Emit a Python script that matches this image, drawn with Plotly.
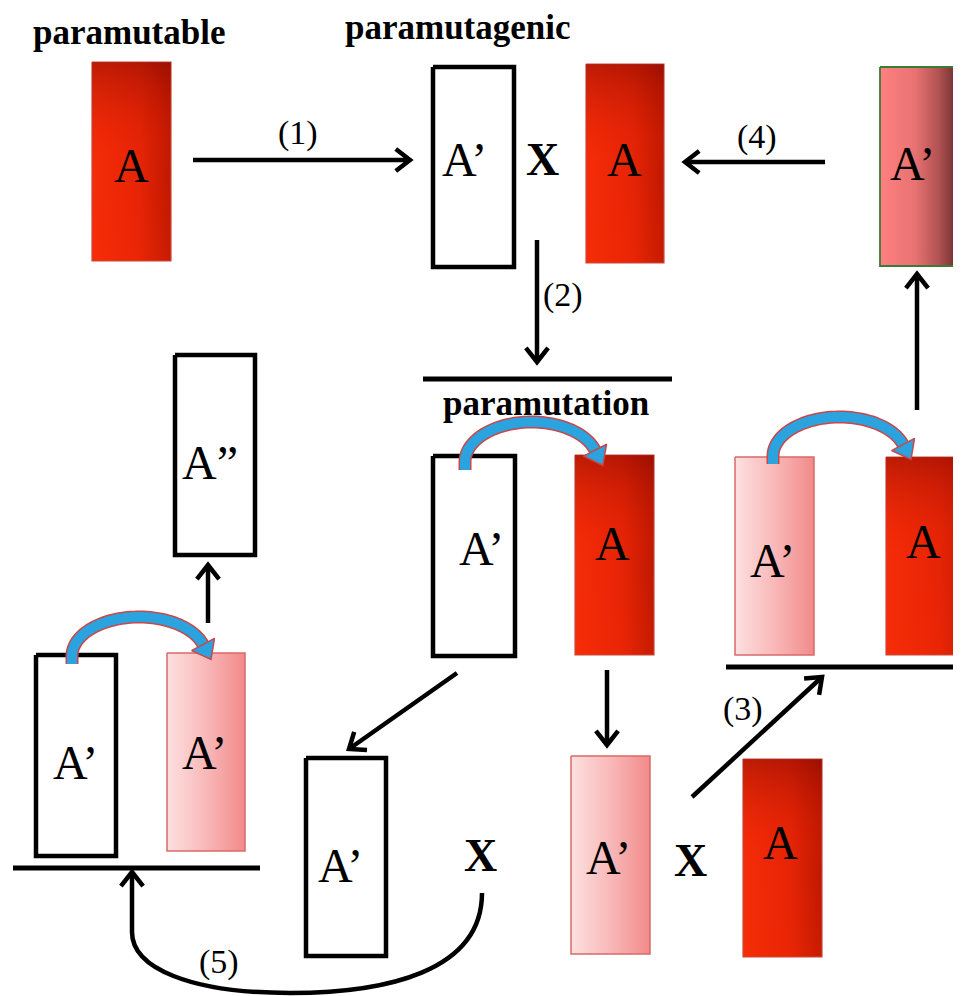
import numpy as np
import plotly.graph_objects as go

W, H = 961, 996
PAGE_MARGIN = 8  # default body margin of the html page

# ---------------- data: boxes ----------------
box_labels = ["A", "A’", "A", "A’", "A’", "A", "A’", "A", "A’", "A’", "A”", "A’", "A’", "A"]
box_styles = ["red", "outline", "red", "dusk", "outline", "red", "pink", "red",
              "outline", "pink", "outline", "outline", "pink", "red"]
box_x0 = [92, 433, 586, 880, 433, 575, 735, 886, 36, 167, 175, 306, 571, 743]
box_x1 = [171, 514, 664, 958, 515, 654, 814, 975, 116, 245, 255, 386, 650, 822]
box_y0 = [62, 67, 64, 67, 456, 455, 457, 457, 655, 653, 355, 758, 756, 759]
box_y1 = [261, 267, 263, 266, 656, 655, 655, 655, 856, 851, 555, 956, 954, 957]
label_x = [131, 464, 624, 912, 481, 612, 772, 923, 75, 204, 210, 340, 608, 780]
label_y = [165, 159, 159, 163, 548, 543, 560, 541, 762, 752, 462, 865, 857, 842]

# ---------------- data: texts ----------------
title_texts = ["paramutable", "paramutagenic", "paramutation"]
title_x = [129, 458, 546]
title_y = [32, 27, 403]

step_texts = ["(1)", "(2)", "(3)", "(4)", "(5)"]
step_x = [298, 563, 743, 757, 219]
step_y = [133, 295, 709, 137, 962]

cross_x = [542, 480, 690]
cross_y = [159, 855, 860]

# ---------------- data: straight arrows (start -> tip) ----------------
arrow_x0 = [193, 537, 825, 917, 457, 607, 692, 208]
arrow_y0 = [160, 240, 162, 410, 673, 670, 797, 623]
arrow_x1 = [410, 537, 685, 917, 349, 607, 822, 208]
arrow_y1 = [160, 362, 162, 274, 749, 745, 677, 565]

# baseline bars
bar_x0 = [423, 726, 13]
bar_x1 = [672, 961, 260]
bar_y = [379, 667, 868]

# curved block arrows: tail x, tail y, tip x, apex y
curl_tail_x = [465, 773, 72]
curl_tail_y = [470, 464, 664]
curl_tip_x = [602, 910, 210]
curl_apex_y = [422, 417, 617]

SERIF = "Liberation Serif, Times New Roman, serif"
BLUE = "#2aa3de"
OUTRED = "#c9474a"

fig = go.Figure()

def rect_xy(x0, x1, y0, y1):
    return [x0, x1, x1, x0, x0], [y0, y0, y1, y1, y0]

for lab, st, x0, x1, y0, y1 in zip(box_labels, box_styles, box_x0, box_x1, box_y0, box_y1):
    xs, ys = rect_xy(x0, x1, y0, y1)
    if st == "outline":
        fig.add_trace(go.Scatter(x=xs, y=ys, mode="lines", fill="toself",
                                 fillcolor="white", line=dict(color="black", width=4.5),
                                 hoverinfo="skip"))
    elif st == "red":
        fig.add_trace(go.Scatter(x=xs, y=ys, mode="lines", fill="toself",
                                 fillgradient=dict(type="horizontal",
                                                   colorscale=[[0, "#f52c08"], [0.6, "#e62406"], [1, "#bf1800"]]),
                                 line=dict(color="#c84a40", width=1.2), hoverinfo="skip"))
        fig.add_trace(go.Scatter(x=xs, y=ys, mode="lines", fill="toself",
                                 fillgradient=dict(type="vertical",
                                                   colorscale=[[0, "rgba(255,50,0,0.12)"], [0.45, "rgba(255,40,0,0.0)"], [1, "rgba(100,0,0,0.38)"]]),
                                 line=dict(color="rgba(0,0,0,0)", width=0), hoverinfo="skip"))
    elif st == "pink":
        fig.add_trace(go.Scatter(x=xs, y=ys, mode="lines", fill="toself",
                                 fillgradient=dict(type="horizontal",
                                                   colorscale=[[0, "#fde0e0"], [0.5, "#f9b8b8"], [1, "#f28a8a"]]),
                                 line=dict(color="#d86a6a", width=1.5), hoverinfo="skip"))
    elif st == "dusk":
        fig.add_trace(go.Scatter(x=xs, y=ys, mode="lines", fill="toself",
                                 fillgradient=dict(type="horizontal",
                                                   colorscale=[[0, "#ff8080"], [0.45, "#e87272"], [0.75, "#b25252"], [1, "#6a2c2c"]]),
                                 line=dict(color="#3d7a35", width=1.8), hoverinfo="skip"))

# curved block arrows
for tx, ty, px, ay in zip(curl_tail_x, curl_tail_y, curl_tip_x, curl_apex_y):
    cx = (tx + px) / 2 - 2
    rx = cx - tx
    cy = ty - 8
    ry = cy - ay
    te = 0.3
    t = np.linspace(np.pi, te, 60)
    xs = [tx] + list(cx + rx * np.cos(t))
    ys = [ty] + list(cy - ry * np.sin(t))
    d = np.array([rx * np.sin(te), ry * np.cos(te)])
    d = d / np.linalg.norm(d)
    n = np.array([-d[1], d[0]])
    pe = np.array([xs[-1], ys[-1]])
    tip = pe + d * 17
    b1 = pe + n * 13
    b2 = pe - n * 13
    fig.add_trace(go.Scatter(x=xs, y=ys, mode="lines",
                             line=dict(color=OUTRED, width=13, simplify=False), hoverinfo="skip"))
    fig.add_trace(go.Scatter(x=xs, y=ys, mode="lines",
                             line=dict(color=BLUE, width=10, simplify=False), hoverinfo="skip"))
    fig.add_trace(go.Scatter(x=[b1[0], tip[0], b2[0], b1[0]], y=[b1[1], tip[1], b2[1], b1[1]],
                             mode="lines", fill="toself", fillcolor=BLUE,
                             line=dict(color=OUTRED, width=1.5), hoverinfo="skip"))

shapes = []

def chevron(tx, ty, dx, dy, L=18, ang=38):
    d = np.array([dx, dy], float)
    d = d / np.linalg.norm(d)
    out = []
    for s in (1, -1):
        a = np.radians(ang) * s
        r = np.array([d[0] * np.cos(a) - d[1] * np.sin(a), d[0] * np.sin(a) + d[1] * np.cos(a)])
        out.append((tx - L * r[0], ty - L * r[1]))
    (ax1, ay1), (ax2, ay2) = out
    return f"M {ax1:.1f},{ay1:.1f} L {tx},{ty} L {ax2:.1f},{ay2:.1f}"

for x0, y0, x1, y1 in zip(arrow_x0, arrow_y0, arrow_x1, arrow_y1):
    shapes.append(dict(type="line", x0=x0, y0=y0, x1=x1, y1=y1, xref="x", yref="y",
                       line=dict(color="black", width=4.5), layer="above"))
    shapes.append(dict(type="path", path=chevron(x1, y1, x1 - x0, y1 - y0), xref="x", yref="y",
                       line=dict(color="black", width=4.5), layer="above"))

# curved arrow (5)
shapes.append(dict(type="path",
                   path="M 482,893 C 482,972 385,993 290,993 C 190,993 132,968 132,932 L 132,874",
                   xref="x", yref="y", line=dict(color="black", width=4.5), layer="above"))
shapes.append(dict(type="path", path=chevron(132, 872, 0, -1), xref="x", yref="y",
                   line=dict(color="black", width=4.5), layer="above"))

for x0, x1, y in zip(bar_x0, bar_x1, bar_y):
    shapes.append(dict(type="line", x0=x0, x1=x1, y0=y, y1=y, xref="x", yref="y",
                       line=dict(color="black", width=5), layer="above"))

annotations = []
for lab, x, y in zip(box_labels, label_x, label_y):
    annotations.append(dict(x=x, y=y, text=lab, showarrow=False, xanchor="center", yanchor="middle",
                            font=dict(family=SERIF, size=48, color="black")))
for lab, x, y in zip(title_texts, title_x, title_y):
    annotations.append(dict(x=x, y=y, text=f"<b>{lab}</b>", showarrow=False, xanchor="center",
                            yanchor="middle", font=dict(family=SERIF, size=35, color="black")))
for lab, x, y in zip(step_texts, step_x, step_y):
    annotations.append(dict(x=x, y=y, text=lab, showarrow=False, xanchor="center", yanchor="middle",
                            font=dict(family=SERIF, size=34, color="black")))
for x, y in zip(cross_x, cross_y):
    annotations.append(dict(x=x, y=y, text="<b>X</b>", showarrow=False, xanchor="center",
                            yanchor="middle", font=dict(family=SERIF, size=46, color="black")))

fig.update_layout(
    width=W - PAGE_MARGIN, height=H - PAGE_MARGIN, margin=dict(l=0, r=0, t=0, b=0),
    paper_bgcolor="white", plot_bgcolor="white", showlegend=False,
    xaxis=dict(range=[PAGE_MARGIN, W], visible=False, fixedrange=True),
    yaxis=dict(range=[H, PAGE_MARGIN], visible=False, fixedrange=True),
    shapes=shapes, annotations=annotations,
)

fig.write_html("out.html")
